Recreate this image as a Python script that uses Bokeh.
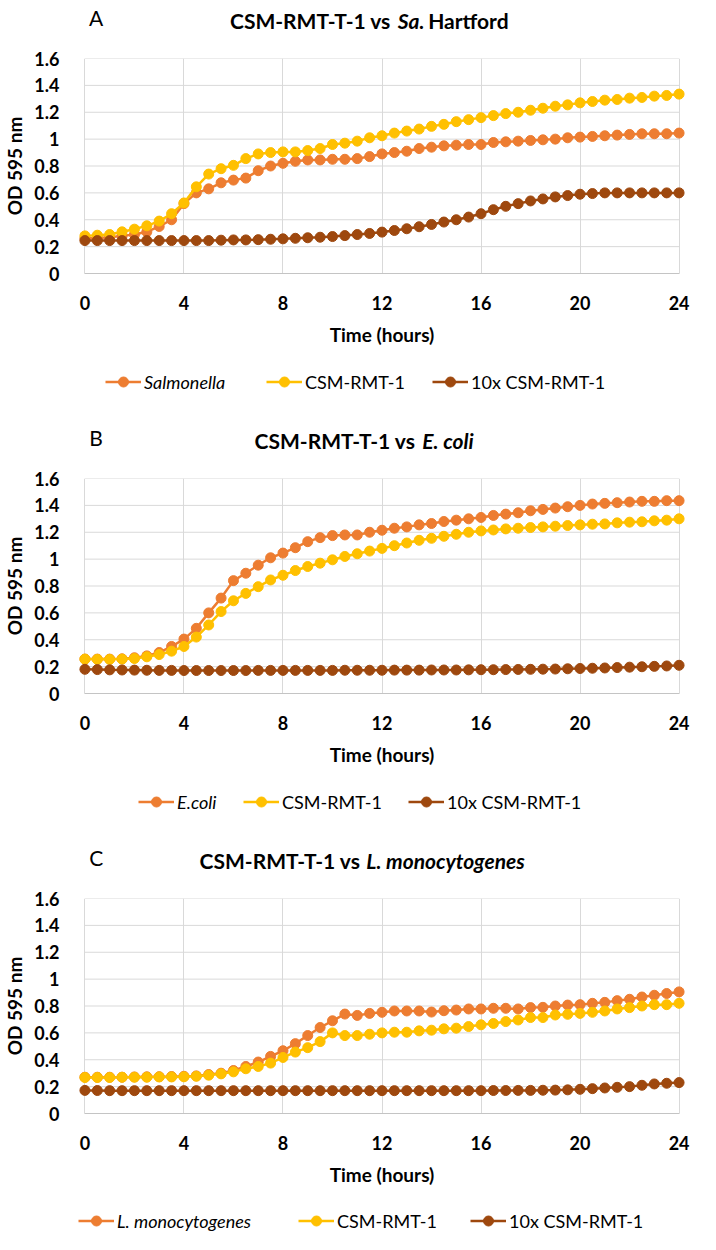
from bokeh.plotting import figure
from bokeh.models import Range1d, FixedTicker, Label, Legend, LegendItem
from bokeh.layouts import column
from bokeh.embed import file_html
from bokeh.resources import INLINE

hours = [0, 0.5, 1, 1.5, 2, 2.5, 3, 3.5, 4, 4.5, 5, 5.5, 6, 6.5, 7, 7.5, 8, 8.5,
         9, 9.5, 10, 10.5, 11, 11.5, 12, 12.5, 13, 13.5, 14, 14.5, 15, 15.5, 16,
         16.5, 17, 17.5, 18, 18.5, 19, 19.5, 20, 20.5, 21, 21.5, 22, 22.5, 23,
         23.5, 24]

x_ticks = [0, 4, 8, 12, 16, 20, 24]
y_ticks = [0, 0.2, 0.4, 0.6, 0.8, 1, 1.2, 1.4, 1.6]
y_tick_labels = ["0", "0.2", "0.4", "0.6", "0.8", "1", "1.2", "1.4", "1.6"]

# Panel A
a_salmonella = [0.26, 0.265, 0.27, 0.28, 0.29, 0.31, 0.35, 0.40, 0.52, 0.60,
                0.63, 0.675, 0.695, 0.71, 0.765, 0.80, 0.82, 0.835, 0.845, 0.845,
                0.85, 0.85, 0.855, 0.87, 0.89, 0.90, 0.91, 0.93, 0.94, 0.95,
                0.955, 0.96, 0.96, 0.975, 0.98, 0.985, 0.99, 0.995, 1.0, 1.01,
                1.015, 1.02, 1.025, 1.03, 1.035, 1.04, 1.04, 1.04, 1.045]
a_csm = [0.28, 0.285, 0.29, 0.31, 0.33, 0.355, 0.39, 0.445, 0.525, 0.645,
         0.74, 0.78, 0.805, 0.855, 0.89, 0.90, 0.905, 0.905, 0.915, 0.93,
         0.96, 0.97, 0.985, 1.01, 1.025, 1.045, 1.06, 1.075, 1.095, 1.11,
         1.13, 1.145, 1.16, 1.175, 1.19, 1.20, 1.215, 1.23, 1.245, 1.255,
         1.27, 1.28, 1.29, 1.295, 1.305, 1.31, 1.32, 1.325, 1.335]
a_csm10 = [0.245, 0.245, 0.245, 0.245, 0.245, 0.245, 0.245, 0.245, 0.245, 0.245,
           0.245, 0.248, 0.25, 0.25, 0.252, 0.255, 0.258, 0.262, 0.266, 0.27,
           0.275, 0.282, 0.29, 0.298, 0.308, 0.32, 0.333, 0.348, 0.365, 0.383,
           0.40, 0.42, 0.445, 0.475, 0.50, 0.52, 0.54, 0.555, 0.57, 0.58,
           0.59, 0.595, 0.60, 0.60, 0.60, 0.60, 0.60, 0.60, 0.60]

# Panel B
b_ecoli = [0.256, 0.256, 0.256, 0.258, 0.266, 0.28, 0.305, 0.35, 0.405, 0.485,
           0.60, 0.71, 0.84, 0.895, 0.955, 1.01, 1.045, 1.085, 1.13, 1.16,
           1.175, 1.18, 1.18, 1.20, 1.215, 1.23, 1.24, 1.255, 1.265, 1.28,
           1.29, 1.30, 1.31, 1.325, 1.335, 1.345, 1.36, 1.37, 1.38, 1.39,
           1.40, 1.41, 1.415, 1.42, 1.425, 1.43, 1.43, 1.435, 1.435]
b_csm = [0.256, 0.254, 0.254, 0.256, 0.26, 0.273, 0.29, 0.315, 0.35, 0.42,
         0.51, 0.61, 0.69, 0.745, 0.795, 0.845, 0.88, 0.915, 0.945, 0.97,
         0.995, 1.02, 1.04, 1.06, 1.08, 1.10, 1.12, 1.14, 1.155, 1.17,
         1.185, 1.20, 1.21, 1.217, 1.225, 1.23, 1.235, 1.24, 1.245, 1.25,
         1.255, 1.26, 1.262, 1.27, 1.275, 1.278, 1.285, 1.29, 1.30]
b_csm10 = [0.18, 0.178, 0.176, 0.175, 0.174, 0.173, 0.172, 0.172, 0.171, 0.171,
           0.171, 0.171, 0.171, 0.171, 0.172, 0.172, 0.172, 0.172, 0.172, 0.172,
           0.172, 0.173, 0.173, 0.173, 0.173, 0.174, 0.174, 0.174, 0.175, 0.175,
           0.175, 0.176, 0.177, 0.177, 0.178, 0.179, 0.18, 0.181, 0.182, 0.184,
           0.186, 0.188, 0.19, 0.193, 0.196, 0.199, 0.202, 0.205, 0.21]

# Panel C
c_listeria = [0.27, 0.27, 0.27, 0.27, 0.272, 0.273, 0.274, 0.275, 0.277, 0.28,
              0.29, 0.30, 0.32, 0.35, 0.383, 0.425, 0.467, 0.52, 0.58, 0.64,
              0.69, 0.74, 0.73, 0.745, 0.753, 0.763, 0.763, 0.763, 0.755, 0.765,
              0.77, 0.778, 0.778, 0.783, 0.783, 0.778, 0.788, 0.79, 0.80, 0.807,
              0.81, 0.82, 0.827, 0.84, 0.85, 0.867, 0.88, 0.893, 0.905]
c_csm = [0.268, 0.268, 0.268, 0.27, 0.27, 0.27, 0.272, 0.272, 0.273, 0.277,
         0.285, 0.295, 0.31, 0.333, 0.35, 0.375, 0.417, 0.457, 0.49, 0.535,
         0.60, 0.58, 0.58, 0.59, 0.60, 0.605, 0.605, 0.615, 0.62, 0.63,
         0.635, 0.647, 0.66, 0.67, 0.684, 0.696, 0.714, 0.714, 0.733, 0.738,
         0.745, 0.753, 0.763, 0.778, 0.788, 0.80, 0.81, 0.81, 0.82]
c_csm10 = [0.172, 0.171, 0.17, 0.17, 0.17, 0.17, 0.17, 0.17, 0.17, 0.17,
           0.17, 0.17, 0.17, 0.17, 0.17, 0.17, 0.17, 0.17, 0.17, 0.17,
           0.17, 0.17, 0.17, 0.17, 0.17, 0.17, 0.17, 0.17, 0.17, 0.17,
           0.17, 0.17, 0.17, 0.171, 0.171, 0.172, 0.172, 0.173, 0.174, 0.176,
           0.18, 0.185, 0.19, 0.195, 0.20, 0.21, 0.22, 0.225, 0.23]

series_names = ["CSM-RMT-1", "10x CSM-RMT-1"]
colors = ["#ED7D31", "#FFC000", "#9E480E"]

FONT = "Lato"
W = 700
BL, BR = 66, 14          # left / right borders shared by all figures
PAGE_X0 = 8 + BL         # page x of every frame's left edge
HEADER_H = 48
MAIN_H = 305


def blank_fig(h):
    # frame x data units == page pixels
    p = figure(width=W, height=h,
               x_range=Range1d(PAGE_X0, PAGE_X0 + W - BL - BR),
               y_range=Range1d(0, h),
               output_backend="svg", toolbar_location=None,
               x_axis_location=None, y_axis_location=None,
               min_border_left=BL, min_border_right=BR,
               min_border_top=0, min_border_bottom=0)
    p.outline_line_color = None
    p.grid.visible = False
    p.background_fill_color = "white"
    p.border_fill_color = "white"
    return p


def header(letter, pieces):
    p = blank_fig(HEADER_H)
    p.add_layout(Label(x=93, y=HEADER_H - 17, text=letter, text_font=FONT,
                       text_font_size="21px", text_align="center",
                       text_baseline="middle", text_color="#000000"))
    for text, x, style, align in pieces:
        p.add_layout(Label(x=x, y=HEADER_H - 20, text=text, text_font=FONT,
                           text_font_size="21px", text_font_style=style,
                           text_align=align, text_baseline="middle",
                           text_color="#000000"))
    return p


def main_fig(values):
    p = figure(width=W, height=MAIN_H,
               x_range=Range1d(-0.3, 24.3), y_range=Range1d(0, 1.6),
               output_backend="svg", toolbar_location=None,
               min_border_left=BL, min_border_right=BR,
               min_border_top=10, min_border_bottom=80)
    p.outline_line_color = None
    p.background_fill_color = "white"
    p.border_fill_color = "white"

    p.xgrid.ticker = FixedTicker(ticks=x_ticks)
    p.xgrid.grid_line_color = "#D9D9D9"
    p.ygrid.visible = False
    p.segment(x0=[x_ticks[0]] * len(y_ticks), x1=[x_ticks[-1]] * len(y_ticks),
              y0=y_ticks, y1=y_ticks, line_color="#D9D9D9", line_width=1)

    p.xaxis.ticker = FixedTicker(ticks=x_ticks)
    p.xaxis.bounds = (x_ticks[0], x_ticks[-1])
    p.xaxis.axis_line_color = "#C4C4C4"
    p.xaxis.axis_label = "Time (hours)"
    p.xaxis.major_label_standoff = 16
    p.xaxis.axis_label_standoff = 10

    p.yaxis.ticker = FixedTicker(ticks=y_ticks)
    p.yaxis.major_label_overrides = dict(zip(y_ticks, y_tick_labels))
    p.yaxis.axis_line_color = None
    p.yaxis.axis_label = "OD 595 nm"
    p.yaxis.major_label_standoff = 12
    p.yaxis.axis_label_standoff = 5

    for ax in (p.xaxis[0], p.yaxis[0]):
        ax.major_tick_line_color = None
        ax.minor_tick_line_color = None
        ax.major_label_text_font = FONT
        ax.major_label_text_font_style = "bold"
        ax.major_label_text_font_size = "18px"
        ax.major_label_text_color = "#000000"
        ax.axis_label_text_font = FONT
        ax.axis_label_text_font_style = "bold"
        ax.axis_label_text_font_size = "19px"
        ax.axis_label_text_color = "#000000"

    for vals, col in zip(values, colors):
        p.line(hours, vals, line_color=col, line_width=2.5)
        p.scatter(hours, vals, size=10, marker="circle",
                  fill_color=col, line_color=col)
    return p


def legend_fig(h, pathogen, values, xs, vy):
    p = blank_fig(h)
    names = [pathogen] + series_names
    for i, (vals, col, name) in enumerate(zip(values, colors, names)):
        # the series lie left of this frame's x range, so only the swatch shows
        lr = p.line(hours, vals, line_color=col, line_width=2.5)
        sr = p.scatter(hours, vals, size=10, marker="circle",
                       fill_color=col, line_color=col)
        leg = Legend(items=[LegendItem(label=name, renderers=[lr, sr])],
                     location=(xs[i] - PAGE_X0, vy), orientation="horizontal",
                     padding=0, margin=0, spacing=0, glyph_width=36,
                     glyph_height=25, label_height=24, label_standoff=3,
                     label_text_font=FONT, label_text_font_size="18px",
                     label_text_font_style="italic" if i == 0 else "normal",
                     label_text_color="#000000",
                     background_fill_alpha=0, border_line_alpha=0)
        p.add_layout(leg)
    return p


vals_A = [a_salmonella, a_csm, a_csm10]
vals_B = [b_ecoli, b_csm, b_csm10]
vals_C = [c_listeria, c_csm, c_csm10]

hA = header("A", [("CSM-RMT-T-1 vs", 393, "bold", "right"),
                  ("Sa.", 400, "bold italic", "left"),
                  ("Hartford", 431, "bold", "left")])
mA = main_fig(vals_A)
lA = legend_fig(67, "Salmonella", vals_A, [102, 263, 429], 26)

hB = header("B", [("CSM-RMT-T-1 vs", 418, "bold", "right"),
                  ("E. coli", 425, "bold italic", "left")])
mB = main_fig(vals_B)
lB = legend_fig(67, "E.coli", vals_B, [135, 240, 405], 26)

hC = header("C", [("CSM-RMT-T-1 vs", 362, "bold", "right"),
                  ("L. monocytogenes", 368, "bold italic", "left")])
mC = main_fig(vals_C)
lC = legend_fig(40, "L. monocytogenes", vals_C, [75, 295, 467], 0)

layout = column(hA, mA, lA, hB, mB, lB, hC, mC, lC, spacing=0)
open("out.html", "w").write(file_html(layout, INLINE))
